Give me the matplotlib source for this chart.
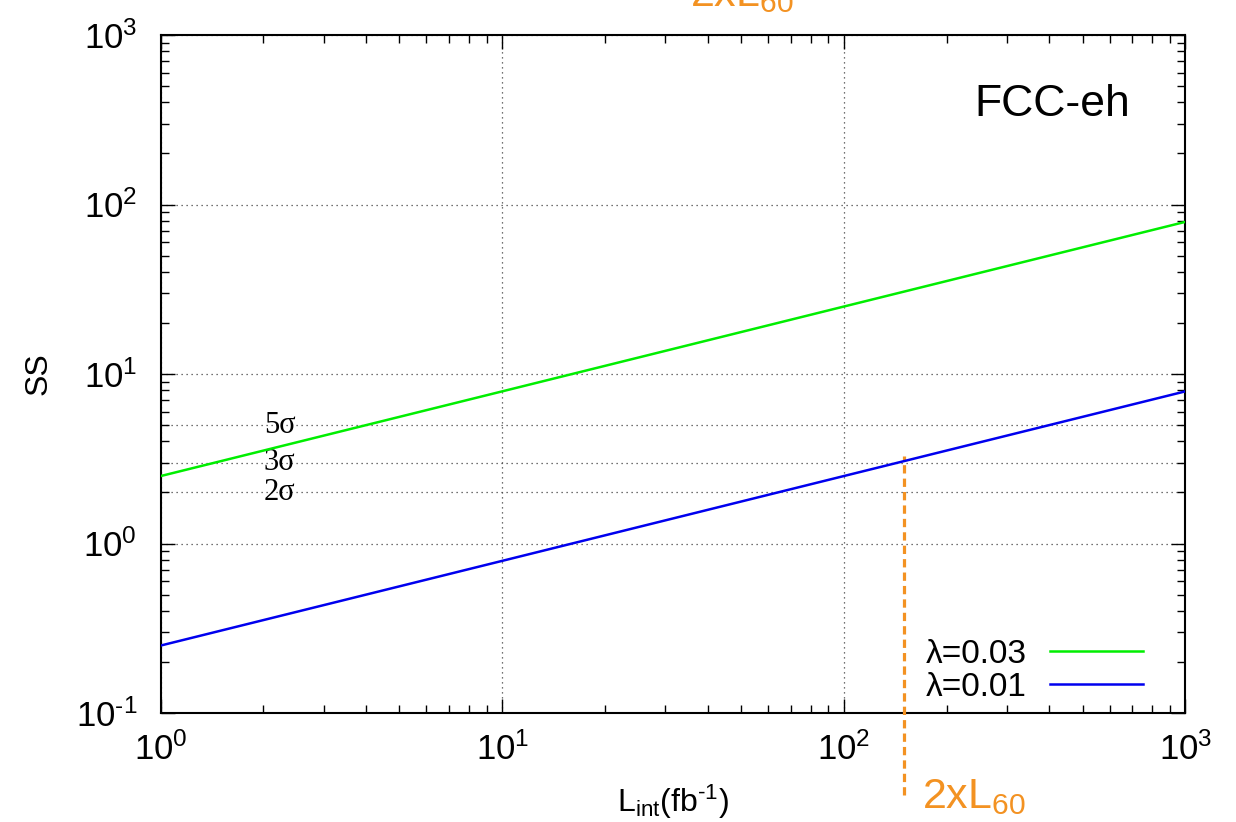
import matplotlib
matplotlib.use("Agg")
import matplotlib.pyplot as plt
from matplotlib.ticker import LogLocator, NullFormatter, FuncFormatter
import numpy as np

# data (straight lines in log-log space)
lumi = [1, 10, 100, 1000]
ss_l003 = [2.5, 7.9, 25.0, 79.0]
ss_l001 = [0.25, 0.79, 2.5, 7.9]

sigma_levels = [2, 3, 5]
sigma_labels = ["2σ", "3σ", "5σ"]

lumi_2xl60 = 150
lumi_2xl60_top = 3.3

plt.rcParams["font.family"] = ["Liberation Sans", "DejaVu Sans"]
plt.rcParams["mathtext.fontset"] = "custom"
plt.rcParams["mathtext.rm"] = "Liberation Sans"
plt.rcParams["mathtext.it"] = "Liberation Sans"

ORANGE = "#f39222"
GRID = "#444444"


def pow10(v, pos):
    e = int(round(np.log10(v)))
    return r"$10^{\text{%d}}$" % e


fig = plt.figure(figsize=(12.36, 8.22), dpi=100)
ax = fig.add_axes([0.130, 0.1326, 0.829, 0.8248])

ax.plot(lumi, ss_l003, color="#00ee00", lw=1.8, label="λ=0.03", zorder=4)
ax.plot(lumi, ss_l001, color="#0000ee", lw=1.8, label="λ=0.01", zorder=4)

ax.set_xscale("log")
ax.set_yscale("log")
ax.set_xlim(1, 1000)
ax.set_ylim(0.1, 1000)

for axis in (ax.xaxis, ax.yaxis):
    axis.set_major_locator(LogLocator(base=10, numticks=10))
    axis.set_minor_locator(LogLocator(base=10, subs=range(2, 10), numticks=20))
    axis.set_major_formatter(FuncFormatter(pow10))
    axis.set_minor_formatter(NullFormatter())

ax.tick_params(which="both", direction="in", top=True, right=True,
               labelsize=25, width=1.0)
ax.tick_params(which="major", length=10)
ax.tick_params(which="minor", length=5.5)
ax.tick_params(axis="x", which="major", pad=14)
ax.tick_params(axis="y", which="major", pad=17)
for s in ax.spines.values():
    s.set_linewidth(1.5)

ax.grid(True, which="major", ls=(0, (1, 3)), color=GRID, lw=0.9)
for lvl, lab in zip(sigma_levels, sigma_labels):
    ax.axhline(lvl, ls=(0, (1, 3)), color=GRID, lw=0.9, zorder=1)
    ax.text(2.23, lvl, lab, family=["Liberation Serif", "DejaVu Serif"],
            fontsize=22, ha="center", va="center", zorder=3)

ax.set_xlabel(r"L$_{\rm int}$(fb$^{\text{-1}}$)", fontsize=23)
ax.xaxis.set_label_coords(0.5, -0.103)
ax.set_ylabel("SS", fontsize=23)
ax.yaxis.set_label_coords(-0.105, 0.5)

ax.text(0.946, 0.898, "FCC-eh", transform=ax.transAxes, fontsize=32,
        ha="right", va="center")

# orange marker for 2xL60, runs past the bottom of the axes
ax.plot([lumi_2xl60, lumi_2xl60], [0.033, lumi_2xl60_top], color=ORANGE,
        lw=2.3, ls=(0, (2.6, 1.6)), clip_on=False, zorder=3)
fig.text(922 / 1236, 1 - 808 / 822, r"2xL$_{\rm 60}$", color=ORANGE,
         fontsize=31, ha="left", va="baseline")
fig.text(742 / 1236, 1 - 6 / 822, r"2xL$_{\rm 60}$", color=ORANGE,
         fontsize=31, ha="center", va="baseline")

ax.legend(loc="center right", bbox_to_anchor=(0.959, 0.062), frameon=False,
          fontsize=24, markerfirst=False, handlelength=2.8,
          handletextpad=0.7, labelspacing=0.05, borderpad=0,
          borderaxespad=0)

fig.savefig("out.png", dpi=100)
